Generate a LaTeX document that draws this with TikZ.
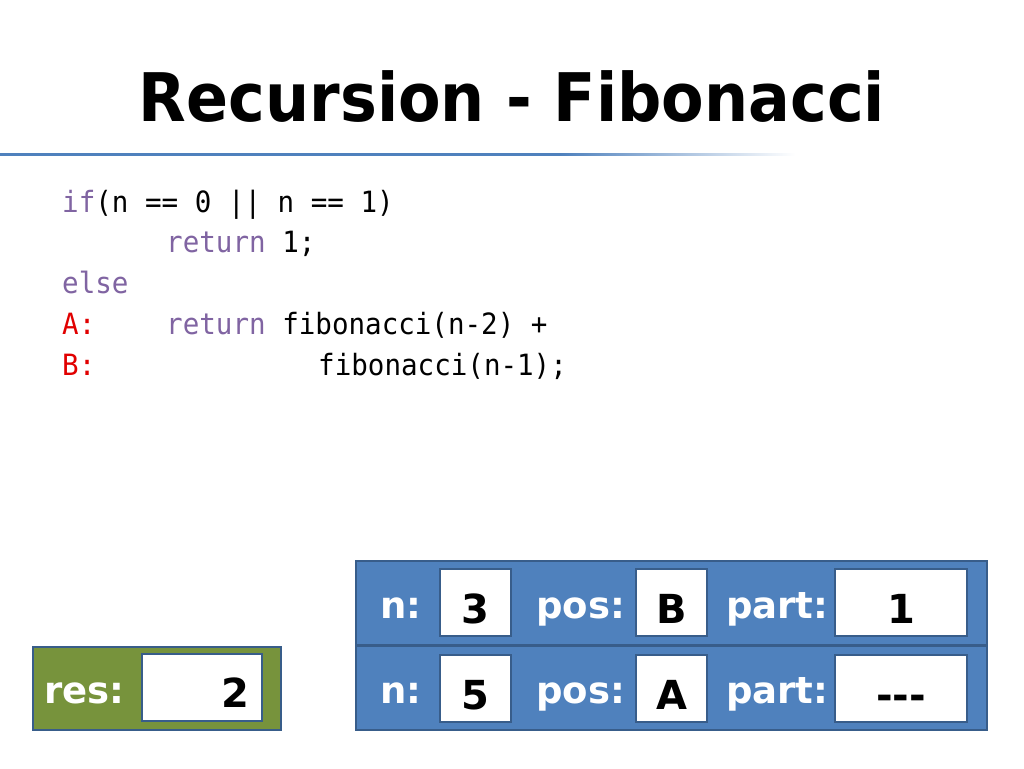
\documentclass[tikz,border=0pt]{standalone}
\usepackage{fontspec}
\setmainfont{DejaVu Sans}
\setmonofont[FakeStretch=0.94]{DejaVu Sans Mono}
\usetikzlibrary{positioning}

\definecolor{accent}{RGB}{79,129,189}
\definecolor{edge}{RGB}{56,93,138}
\definecolor{olive}{RGB}{119,147,60}
\definecolor{keyword}{RGB}{128,100,162}
\definecolor{mark}{RGB}{225,0,0}

\begin{document}
\begin{tikzpicture}[x=1pt, y=-1pt,
    frame/.style={draw=edge, line width=2pt, fill=accent},
    cell/.style={draw=edge, line width=1.5pt, fill=white},
    lbl/.style={anchor=base west, inner sep=0pt, text=white,
      font=\fontsize{37}{40}\selectfont\bfseries},
    val/.style={anchor=base, inner sep=0pt,
      font=\fontsize{40}{42}\selectfont\bfseries},
    code/.style={anchor=base west, inner sep=0pt,
      font=\fontsize{29.3}{32}\selectfont\ttfamily}]

  \fill[white] (0,0) rectangle (1024,768);
  \useasboundingbox (0,0) rectangle (1024,768);

  % title and rule
  \node[anchor=base, inner sep=0pt, font=\fontsize{67}{72}\selectfont\bfseries]
    (title) at (512,121) {\scalebox{0.925}[1]{Recursion - Fibonacci}};
  \fill[accent] (0,153) rectangle (560,155.5);
  \shade[left color=accent, right color=white] (560,153) rectangle (795,155.5);

  % code
  \node[code] (l1) at (62,212) {\textcolor{keyword}{if}(n == 0 || n == 1)};
  \node[code] (l2) at (166,252) {\textcolor{keyword}{return} 1;};
  \node[code, text=keyword] (l3) at (62,293) {else};
  \node[code, text=mark] (la) at (62,334) {A:};
  \node[code] (l4) at (166,334) {\textcolor{keyword}{return} fibonacci(n-2) +};
  \node[code, text=mark] (lb) at (62,375) {B:};
  \node[code] (l5) at (318,375) {fibonacci(n-1);};

  % name, left, right, top, value
  \newcommand{\varbox}[5]{
    \draw[cell] (#2,#4) rectangle (#3,#4+67);
    \node[val] (#1) at ({(#2+#3)/2},#4+54) {#5};}

  % stack frames
  \draw[frame] (356,561) rectangle (987,645);
  \draw[frame] (356,646) rectangle (987,730);

  \node[lbl] (n1) at (380,618) {n:};
  \node[lbl] (pos1) at (536,618) {pos:};
  \node[lbl] (part1) at (726,618) {part:};
  \varbox{nv1}{440}{511}{569}{3}
  \varbox{pv1}{636}{707}{569}{B}
  \varbox{qv1}{835}{967}{569}{1}

  \node[lbl] (n2) at (380,703) {n:};
  \node[lbl] (pos2) at (536,703) {pos:};
  \node[lbl] (part2) at (726,703) {part:};
  \varbox{nv2}{440}{511}{655}{5}
  \varbox{pv2}{636}{707}{655}{A}
  \varbox{qv2}{835}{967}{655}{\mbox{-}\mbox{-}\mbox{-}}

  % result
  \draw[frame, fill=olive] (33,647) rectangle (281,730);
  \node[lbl] (res) at (44,703) {res:};
  \draw[cell] (142,654) rectangle (262,721);
  \node[val, anchor=base east] (resv) at (250,707) {2};

\end{tikzpicture}
\end{document}
